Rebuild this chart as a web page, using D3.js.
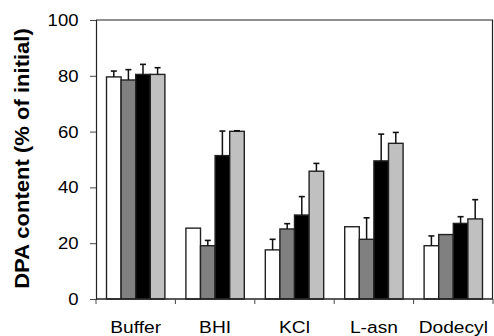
<!DOCTYPE html>
<html>
<head>
<meta charset="utf-8">
<script src="https://cdn.jsdelivr.net/npm/d3@7"></script>
<style>
  body { margin: 0; background: #fff; }
  svg text { font-family: Arial, "Liberation Sans", sans-serif; fill: #000; }
</style>
</head>
<body>
<div id="chart"></div>
<script>
// categories and series
const categories = ["Buffer", "BHI", "KCl", "L-asn", "Dodecyl"];
const seriesKeys = ["s1", "s2", "s3", "s4"];
const seriesFill = ["#ffffff", "#808080", "#000000", "#c0c0c0"];

const s1 = [79.6, 25.4, 17.6, 25.9, 19.1];
const s2 = [78.5, 19.1, 25.1, 21.4, 23.1];
const s3 = [80.5, 51.4, 30.1, 49.5, 27.1];
const s4 = [80.5, 60.1, 45.8, 55.8, 28.7];

// upward error (sd), 0 = no bar drawn
const e1 = [2.1, 0, 3.8, 0, 3.5];
const e2 = [3.7, 1.9, 1.9, 7.7, 0];
const e3 = [3.6, 8.8, 6.6, 9.6, 2.4];
const e4 = [2.4, 0.2, 2.8, 3.9, 6.9];

const yTicks = [0, 20, 40, 60, 80, 100];

const values = [s1, s2, s3, s4];
const errors = [e1, e2, e3, e4];

const width = 494, height = 336;
const margin = { top: 20, right: 1, bottom: 37, left: 96 };
const stretch = 1.13; // the original type is set a little wide

const svg = d3.select("#chart").append("svg")
    .attr("width", width)
    .attr("height", height);

const x0 = d3.scaleBand()
    .domain(categories)
    .range([margin.left, width - margin.right])
    .paddingInner(0)
    .paddingOuter(0);

const x1 = d3.scaleBand()
    .domain(seriesKeys)
    .range([0, x0.bandwidth()])
    .paddingOuter(0.72)
    .paddingInner(0);

const y = d3.scaleLinear()
    .domain([0, 100])
    .range([height - margin.bottom, margin.top]);

// frame top and right
svg.append("line")
    .attr("x1", margin.left).attr("x2", width - margin.right)
    .attr("y1", margin.top).attr("y2", margin.top)
    .attr("stroke", "#222").attr("stroke-width", 1.2);
svg.append("line")
    .attr("x1", width - margin.right - 0.5).attr("x2", width - margin.right - 0.5)
    .attr("y1", margin.top).attr("y2", height - margin.bottom)
    .attr("stroke", "#222").attr("stroke-width", 1.2);

// bars
const rows = [];
categories.forEach((c, i) => {
    seriesKeys.forEach((k, j) => {
        rows.push({ cat: c, key: k, value: values[j][i], err: errors[j][i], fill: seriesFill[j] });
    });
});

svg.append("g").attr("class", "bars")
    .selectAll("rect").data(rows).enter().append("rect")
    .attr("x", d => x0(d.cat) + x1(d.key))
    .attr("y", d => y(d.value))
    .attr("width", x1.bandwidth())
    .attr("height", d => y(0) - y(d.value))
    .attr("fill", d => d.fill)
    .attr("stroke", "#222")
    .attr("stroke-width", 1.4);

// error bars (upper only)
const cx = d => x0(d.cat) + x1(d.key) + x1.bandwidth() / 2;
const eb = svg.append("g").attr("class", "errors")
    .selectAll("g").data(rows.filter(d => d.err > 0)).enter().append("g");

eb.append("line")
    .attr("x1", cx).attr("x2", cx)
    .attr("y1", d => y(d.value))
    .attr("y2", d => y(d.value + d.err))
    .attr("stroke", "#111").attr("stroke-width", 1.5);

eb.append("line")
    .attr("x1", d => cx(d) - 3)
    .attr("x2", d => cx(d) + 3)
    .attr("y1", d => y(d.value + d.err))
    .attr("y2", d => y(d.value + d.err))
    .attr("stroke", "#111").attr("stroke-width", 1.6);

// y axis
const yAxis = svg.append("g")
    .attr("transform", `translate(${margin.left}, 0)`)
    .call(d3.axisLeft(y).tickValues(yTicks).tickSize(6).tickPadding(12));
yAxis.select(".domain").attr("stroke", "#222").attr("stroke-width", 1.2);
yAxis.selectAll(".tick line").attr("stroke", "#444");
yAxis.selectAll(".tick text")
    .attr("font-size", 17)
    .attr("font-family", "Arial, 'Liberation Sans', sans-serif")
    .attr("x", 0)
    .attr("transform", `translate(-17.5, 0) scale(1.09, 1)`);

// x axis: ticks at band boundaries
const xAxisG = svg.append("g")
    .attr("transform", `translate(0, ${y(0)})`);
xAxisG.append("line")
    .attr("x1", margin.left).attr("x2", width - margin.right)
    .attr("stroke", "#222").attr("stroke-width", 1.4);
const bounds = categories.map(c => x0(c)).concat([x0.range()[1]]);
xAxisG.selectAll("line.tk").data(bounds).enter().append("line")
    .attr("class", "tk")
    .attr("x1", d => d).attr("x2", d => d)
    .attr("y1", 0).attr("y2", 5)
    .attr("stroke", "#444");
xAxisG.selectAll("text").data(categories).enter().append("text")
    .attr("transform", d => `translate(${x0(d) + x0.bandwidth() / 2}, 34) scale(${stretch}, 1)`)
    .attr("text-anchor", "middle")
    .attr("font-size", 17)
    .text(d => d);

// y label
svg.append("text")
    .attr("transform", `translate(29, ${(y(0) + y(100)) / 2 - 1}) rotate(-90) scale(${stretch}, 1)`)
    .attr("text-anchor", "middle")
    .attr("font-size", 19.5)
    .attr("font-weight", "bold")
    .text("DPA content (% of initial)");
</script>
</body>
</html>
